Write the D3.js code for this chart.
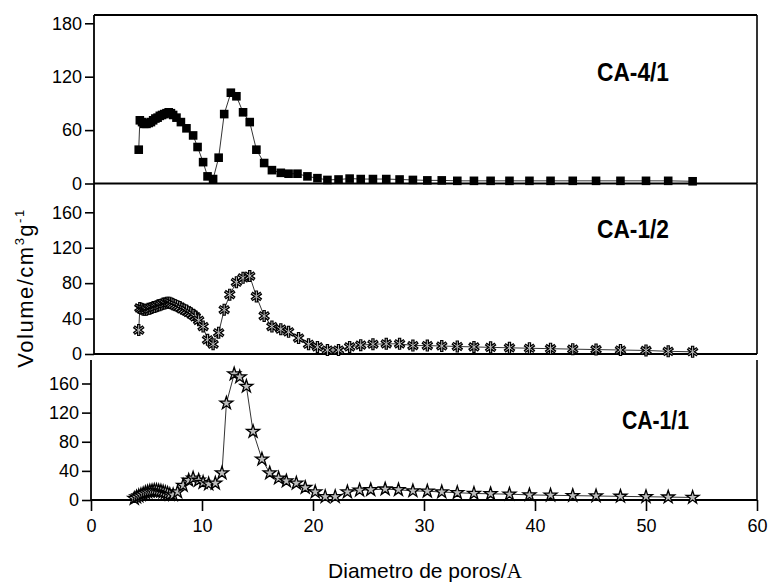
<!DOCTYPE html>
<html>
<head>
<meta charset="utf-8">
<script src="https://cdn.jsdelivr.net/npm/d3@7"></script>
<style>
  body { margin: 0; background: #fff; }
  text { font-family: "Liberation Sans", Arial, sans-serif; fill: #000; }
</style>
</head>
<body>
<svg id="chart" width="770" height="585"></svg>
<script>
// CA-4/1 (top panel, squares)
var x41 = [4.3, 4.4, 4.6, 4.8, 5.0, 5.2, 5.4, 5.6, 5.8, 6.0, 6.2, 6.4, 6.6, 6.8, 7.0, 7.2, 7.4, 7.7, 8.1, 8.6,
           9.2, 9.6, 10.1, 10.5, 11.0, 11.5, 12.0, 12.6, 13.1, 13.7, 14.3, 14.9, 15.6, 16.3, 17.1, 17.8, 18.6, 19.5, 20.4, 21.3,
           22.3, 23.3, 24.3, 25.4, 26.6, 27.8, 29.0, 30.3, 31.6, 33.0, 34.5, 36.0, 37.7, 39.5, 41.4, 43.4, 45.5, 47.7, 50.0, 52.0, 54.2];
var y41 = [38, 71, 69, 67, 67, 68, 69, 71, 73, 74, 76, 77, 78, 79, 80, 79, 77, 74, 69, 62,
           54, 41, 24, 8, 5, 29, 78, 102, 98, 80, 69, 38, 23, 15, 12, 11, 11, 8, 6, 4,
           4.5, 5.5, 5, 5, 5, 4.5, 4, 3.5, 3.5, 3, 3, 3, 3, 3, 3, 3, 3, 3, 3, 3, 2.5];

// CA-1/2 (middle panel, asterisks)
var x12 = [4.3, 4.4, 4.55, 4.7, 4.85, 5.0, 5.15, 5.3, 5.45, 5.6, 5.75, 5.9, 6.05, 6.2, 6.35, 6.5, 6.65, 6.8, 6.95, 7.1,
           7.25, 7.4, 7.6, 7.8, 8.0, 8.2, 8.4, 8.6, 8.8, 9.0, 9.2, 9.4, 9.7, 10.1, 10.5, 11.0, 11.5, 12.0, 12.5, 13.1,
           13.7, 14.3, 14.9, 15.6, 16.3, 17.1, 17.8, 18.7, 19.6, 20.4, 21.3, 22.3, 23.3, 24.3, 25.4, 26.6, 27.8, 29.0,
           30.3, 31.6, 33.0, 34.5, 36.0, 37.7, 39.5, 41.4, 43.4, 45.5, 47.7, 50.0, 52.0, 54.2];
var y12 = [27, 52, 51, 50, 50, 50, 51, 51, 52, 53, 53, 54, 55, 55, 56, 57, 57, 58, 58, 58,
           57, 56, 55, 54, 53, 51, 50, 49, 47, 46, 44, 42, 38, 31, 16, 11, 24, 50, 67, 81,
           86, 88, 65, 43, 31, 28, 25, 18, 11, 8, 4.5, 4.5, 8, 10, 11, 11.5, 11.5, 9.5,
           9.5, 9, 8.5, 8, 7.5, 7, 6.5, 6, 5.5, 5, 4.5, 4, 3, 2.5];

// CA-1/1 (bottom panel, stars)
var x11 = [3.9, 4.1, 4.3, 4.5, 4.7, 4.9, 5.1, 5.3, 5.5, 5.7, 5.9, 6.1, 6.3, 6.5, 6.7, 6.9, 7.1, 7.4, 7.8, 8.3,
           8.8, 9.2, 9.7, 10.1, 10.6, 11.2, 11.8, 12.2, 12.9, 13.4, 14.0, 14.6, 15.4, 16.1, 16.9, 17.6, 18.5, 19.3, 20.2, 21.1,
           22.0, 23.1, 24.2, 25.2, 26.5, 27.7, 29.0, 30.3, 31.6, 33.0, 34.5, 36.0, 37.7, 39.5, 41.4, 43.4, 45.5, 47.7, 50.0, 52.0, 54.2];
var y11 = [2, 4, 5.5, 7, 8.5, 10, 11, 12, 12.5, 13, 13, 12.5, 12, 11, 10, 9, 7.5, 7, 11, 20,
           27, 30, 27, 24, 22, 23, 37, 133, 173, 169, 156, 94, 56, 37, 30, 26, 23, 17, 11, 4.5,
           4.5, 11, 13.5, 14, 15, 14, 12.5, 12, 11, 10, 9, 8.5, 8, 7, 6.5, 6, 5.5, 5, 4.5, 4, 3.5];

var sampleNames = ["CA-4/1", "CA-1/2", "CA-1/1"];
var xTicks = [0, 10, 20, 30, 40, 50, 60];
var yTicksTop = [0, 60, 120, 180];
var yTicksLow = [0, 40, 80, 120, 160];

var svg = d3.select("#chart");

var x = d3.scaleLinear().domain([0, 60]).range([91, 757]);

var panels = [
  {xs: x41, ys: y41, name: sampleNames[0], ticks: yTicksTop, dom: 180, y0: 183.5, y1: 23.3,
   top: 15, left: 94, marker: "square", lx: 597, ly: 81},
  {xs: x12, ys: y12, name: sampleNames[1], ticks: yTicksLow, dom: 160, y0: 354, y1: 212.3,
   top: 183.5, left: 94, marker: "asterisk", lx: 597, ly: 238},
  {xs: x11, ys: y11, name: sampleNames[2], ticks: yTicksLow, dom: 160, y0: 500, y1: 383.5,
   top: 360, left: 91, marker: "star", lx: 622, ly: 429}
];

// 6-arm asterisk
function asteriskPath(r) {
  var p = "";
  [90, 35, 145].forEach(function (a) {
    var t = a * Math.PI / 180;
    var dx = r * Math.cos(t), dy = r * Math.sin(t);
    p += "M" + (-dx) + "," + (-dy) + "L" + dx + "," + dy;
  });
  return p;
}

panels.forEach(function (p, i) {
  var y = d3.scaleLinear().domain([0, p.dom]).range([p.y0, p.y1]);
  var g = svg.append("g").attr("class", "panel");

  // left axis ticks
  var ax = g.append("g")
    .attr("transform", "translate(" + p.left + ",0)")
    .call(d3.axisLeft(y).tickValues(p.ticks).tickSize(9).tickPadding(3));
  ax.select(".domain").remove();
  ax.selectAll("line").attr("stroke", "#000").attr("stroke-width", 1.6);
  ax.selectAll("text").style("font-size", "18px").attr("fill", "#000");

  // frame lines
  g.append("line").attr("x1", p.left).attr("x2", p.left).attr("y1", p.top).attr("y2", p.y0)
    .attr("stroke", "#000").attr("stroke-width", 1.8);
  g.append("line").attr("x1", 757).attr("x2", 757).attr("y1", p.top).attr("y2", p.y0)
    .attr("stroke", "#000").attr("stroke-width", 1.6);
  g.append("line").attr("x1", p.left).attr("x2", 757).attr("y1", p.y0).attr("y2", p.y0)
    .attr("stroke", "#000").attr("stroke-width", 2);
  if (i === 0) {
    g.append("line").attr("x1", p.left).attr("x2", 757).attr("y1", p.top).attr("y2", p.top)
      .attr("stroke", "#000").attr("stroke-width", 2);
  }

  var pts = p.xs.map(function (d, k) { return [d, p.ys[k]]; });

  g.append("path")
    .datum(pts)
    .attr("fill", "none")
    .attr("stroke", "#000")
    .attr("stroke-width", 0.8)
    .attr("d", d3.line().x(function (d) { return x(d[0]); }).y(function (d) { return y(d[1]); }));

  var m = g.selectAll(".mk")
    .data(pts)
    .enter()
    .append("g")
    .attr("transform", function (d) { return "translate(" + x(d[0]) + "," + y(d[1]) + ")"; });

  if (p.marker === "square") {
    m.append("rect").attr("x", -4.3).attr("y", -4.3).attr("width", 8.6).attr("height", 8.6)
      .attr("fill", "#000");
  } else if (p.marker === "asterisk") {
    m.append("path").attr("d", asteriskPath(6)).attr("stroke", "#000").attr("stroke-width", 3.4);
    m.append("path").attr("d", asteriskPath(5)).attr("stroke", "#bbb").attr("stroke-width", 1);
  } else {
    m.append("path").attr("d", d3.symbol(d3.symbolStar, 52)())
      .attr("fill", "#bdbdbd").attr("stroke", "#000").attr("stroke-width", 1.3);
  }

  g.append("text")
    .attr("x", p.lx)
    .attr("y", p.ly)
    .attr("textLength", p.marker === "star" ? 67 : 72)
    .attr("lengthAdjust", "spacingAndGlyphs")
    .style("font-size", "25px")
    .style("font-weight", "bold")
    .text(p.name);
});

// bottom x axis
var xa = svg.append("g")
  .attr("transform", "translate(0,500)")
  .call(d3.axisBottom(x).tickValues(xTicks).tickSize(11).tickPadding(8));
xa.select(".domain").remove();
xa.selectAll("line").attr("stroke", "#000").attr("stroke-width", 1.6);
xa.selectAll("text").style("font-size", "18px").attr("fill", "#000");

// axis titles
var xt = svg.append("text")
  .attr("x", 425)
  .attr("y", 578)
  .attr("text-anchor", "middle")
  .style("font-size", "21px");
xt.append("tspan").text("Diametro de poros/");
xt.append("tspan").style("font-family", "'Liberation Serif', 'Times New Roman', serif").text("A");

var yt = svg.append("text")
  .attr("transform", "translate(33,288) rotate(-90)")
  .attr("text-anchor", "middle")
  .style("font-size", "22px")
  .style("letter-spacing", "1.5px");
yt.append("tspan").text("Volume/cm");
yt.append("tspan").attr("dy", -9).style("font-size", "13px").text("3");
yt.append("tspan").attr("dy", 9).text("g");
yt.append("tspan").attr("dy", -9).style("font-size", "13px").text("-1");
</script>
</body>
</html>
